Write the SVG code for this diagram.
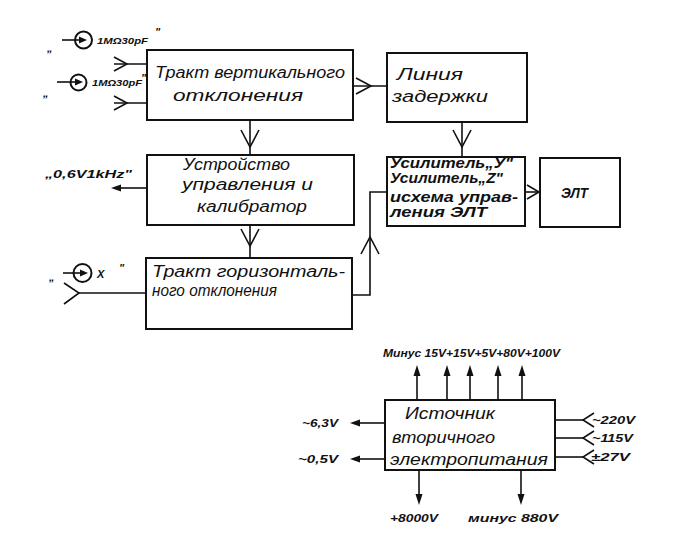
<svg xmlns="http://www.w3.org/2000/svg" width="675" height="537" viewBox="0 0 675 537">
<style>
.box{fill:none;stroke:#111;stroke-width:2}
.ln{fill:none;stroke:#111;stroke-width:1.6}
.v{fill:none;stroke:#111;stroke-width:1.6;stroke-linejoin:miter}
.fa{fill:#111;stroke:none}
text{font-family:"Liberation Sans",Arial,sans-serif;font-style:italic;fill:#111}
.bt{font-size:16px}
.lb{font-size:11px;font-weight:bold}
.sm{font-size:9px;font-weight:bold}
.ub{font-size:14px;font-weight:bold}
</style>
<rect width="675" height="537" fill="#fff"/>
<g id="connectors">
  <line class="ln" x1="62" y1="40" x2="80" y2="40"/>
  <polygon class="fa" points="87,40 79,36.5 79,43.5"/>
  <line class="ln" x1="114" y1="64" x2="147" y2="64"/>
  <polyline class="v" points="114,57 127,64 114,71"/>
  <line class="ln" x1="57" y1="82" x2="76" y2="82"/>
  <polygon class="fa" points="83,82 75,78.5 75,85.5"/>
  <line class="ln" x1="114" y1="103" x2="147" y2="103"/>
  <polyline class="v" points="114,96 127,103 114,110"/>
  <line class="ln" x1="353" y1="86" x2="387" y2="86"/>
  <polyline class="v" points="356,78 371,86 356,94"/>
  <line class="ln" x1="250" y1="120" x2="250" y2="155"/>
  <polyline class="v" points="241,130 250,147 259,130"/>
  <line class="ln" x1="462" y1="122" x2="462" y2="157"/>
  <polyline class="v" points="453,130 462,147 471,130"/>
  <line class="ln" x1="147" y1="188" x2="119" y2="188"/>
  <polygon class="fa" points="111,188 121,184.5 121,191.5"/>
  <line class="ln" x1="250" y1="225" x2="250" y2="258"/>
  <polyline class="v" points="241,229 250,246 259,229"/>
  <line class="ln" x1="63" y1="273" x2="81" y2="273"/>
  <polygon class="fa" points="88,273 80,269.5 80,276.5"/>
  <polyline class="v" points="64,283 79,293 64,304"/>
  <line class="ln" x1="79" y1="293" x2="146" y2="293"/>
  <polyline class="ln" points="352,295 370,295 370,192 387,192"/>
  <polyline class="v" points="361,254 370,237 379,254"/>
  <line class="ln" x1="525" y1="192" x2="540" y2="192"/>
  <polyline class="v" points="527,185 539,192 527,199"/>
  <line class="ln" x1="417" y1="400" x2="417" y2="374"/>
  <polygon class="fa" points="417,365 413.5,376 420.5,376"/>
  <line class="ln" x1="447" y1="400" x2="447" y2="374"/>
  <polygon class="fa" points="447,365 443.5,376 450.5,376"/>
  <line class="ln" x1="470" y1="400" x2="470" y2="374"/>
  <polygon class="fa" points="470,365 466.5,376 473.5,376"/>
  <line class="ln" x1="498" y1="400" x2="498" y2="374"/>
  <polygon class="fa" points="498,365 494.5,376 501.5,376"/>
  <line class="ln" x1="522" y1="400" x2="522" y2="374"/>
  <polygon class="fa" points="522,365 518.5,376 525.5,376"/>
  <line class="ln" x1="385" y1="423" x2="358" y2="423"/>
  <polygon class="fa" points="350,423 360,419.5 360,426.5"/>
  <line class="ln" x1="385" y1="459" x2="358" y2="459"/>
  <polygon class="fa" points="350,459 360,455.5 360,462.5"/>
  <line class="ln" x1="419" y1="470" x2="419" y2="496"/>
  <polygon class="fa" points="419,505 415.5,494 422.5,494"/>
  <line class="ln" x1="521" y1="470" x2="521" y2="496"/>
  <polygon class="fa" points="521,505 517.5,494 524.5,494"/>
  <line class="ln" x1="555" y1="420" x2="583" y2="420"/>
  <polyline class="v" points="594,413 583,420 594,427"/>
  <line class="ln" x1="555" y1="438" x2="583" y2="438"/>
  <polyline class="v" points="594,431 583,438 594,445"/>
  <line class="ln" x1="555" y1="457" x2="583" y2="457"/>
  <polyline class="v" points="594,450 583,457 594,464"/>
</g>
<g id="input-y1">
  <text class="lb" x="47" y="52">„</text>
  <circle class="box" cx="83.5" cy="40" r="8.5"/>
  <text class="sm" x="97" y="44" textLength="51" lengthAdjust="spacingAndGlyphs">1MΩ30pF</text>
  <text class="lb" x="155" y="36">"</text>
</g>
<g id="input-y2">
  <text class="lb" x="43" y="97">„</text>
  <circle class="box" cx="78.5" cy="82.5" r="8"/>
  <text class="sm" x="92" y="86" textLength="50" lengthAdjust="spacingAndGlyphs">1MΩ30pF</text>
  <text class="lb" x="141" y="82">"</text>
</g>
<g id="input-x">
  <text class="lb" x="49" y="281">„</text>
  <circle class="box" cx="82.5" cy="273" r="9"/>
  <text class="lb" x="97" y="278" font-size="13">X</text>
  <text class="lb" x="119" y="272">"</text>
</g>
<g id="vertical">
  <rect class="box" x="147" y="50" width="206" height="70"/>
  <text class="bt" x="155" y="78" textLength="190" lengthAdjust="spacingAndGlyphs">Тракт вертикального</text>
  <text class="bt" x="173" y="101" textLength="130" lengthAdjust="spacingAndGlyphs">отклонения</text>
</g>
<g id="delay">
  <rect class="box" x="387" y="53" width="140" height="69"/>
  <text class="bt" x="397" y="80" textLength="66" lengthAdjust="spacingAndGlyphs">Линия</text>
  <text class="bt" x="392" y="102" textLength="96" lengthAdjust="spacingAndGlyphs">задержки</text>
</g>
<g id="control">
  <rect class="box" x="147" y="155" width="207" height="70"/>
  <text class="bt" x="183" y="170" textLength="107" lengthAdjust="spacingAndGlyphs">Устройство</text>
  <text class="bt" x="182" y="190" textLength="131" lengthAdjust="spacingAndGlyphs">управления и</text>
  <text class="bt" x="197" y="212" textLength="110" lengthAdjust="spacingAndGlyphs">калибратор</text>
</g>
<g id="cal-out">
  <text class="lb" x="45" y="178" font-size="12" textLength="87" lengthAdjust="spacingAndGlyphs">„0,6V1kHz"</text>
</g>
<g id="horizontal">
  <rect class="box" x="146" y="258" width="206" height="71"/>
  <text class="bt" x="152" y="277" textLength="193" lengthAdjust="spacingAndGlyphs">Тракт горизонталь-</text>
  <text class="bt" x="152" y="296" textLength="125" lengthAdjust="spacingAndGlyphs">ного отклонения</text>
</g>
<g id="amplifier">
  <rect class="box" x="387" y="157" width="138" height="69"/>
  <text class="ub" x="390" y="168" textLength="123" lengthAdjust="spacingAndGlyphs">Усилитель„У"</text>
  <text class="ub" x="390" y="183" textLength="113" lengthAdjust="spacingAndGlyphs">Усилитель„Z"</text>
  <text class="ub" x="390" y="202" textLength="128" lengthAdjust="spacingAndGlyphs">исхема управ-</text>
  <text class="ub" x="390" y="217" textLength="97" lengthAdjust="spacingAndGlyphs">ления ЭЛТ</text>
</g>
<g id="crt">
  <rect class="box" x="540" y="158" width="80" height="69"/>
  <text class="ub" x="561" y="198" font-size="15" textLength="27" lengthAdjust="spacingAndGlyphs">ЭЛТ</text>
</g>
<g id="power">
  <rect class="box" x="385" y="400" width="170" height="70"/>
  <text class="bt" x="405" y="419" textLength="90" lengthAdjust="spacingAndGlyphs">Источник</text>
  <text class="bt" x="392" y="443" textLength="103" lengthAdjust="spacingAndGlyphs">вторичного</text>
  <text class="bt" x="390" y="465" textLength="158" lengthAdjust="spacingAndGlyphs">электропитания</text>
</g>
<g id="power-labels">
  <text class="lb" x="383" y="357" font-size="10" textLength="177" lengthAdjust="spacingAndGlyphs">Минус 15V+15V+5V+80V+100V</text>
  <text class="lb" x="302" y="427" textLength="36" lengthAdjust="spacingAndGlyphs">~6,3V</text>
  <text class="lb" x="298" y="463" textLength="40" lengthAdjust="spacingAndGlyphs">~0,5V</text>
  <text class="lb" x="390" y="522" textLength="48" lengthAdjust="spacingAndGlyphs">+8000V</text>
  <text class="lb" x="468" y="522" textLength="90" lengthAdjust="spacingAndGlyphs">минус 880V</text>
  <text class="lb" x="592" y="424" textLength="43" lengthAdjust="spacingAndGlyphs">~220V</text>
  <text class="lb" x="592" y="442" textLength="41" lengthAdjust="spacingAndGlyphs">~115V</text>
  <text class="lb" x="591" y="461" textLength="39" lengthAdjust="spacingAndGlyphs">±27V</text>
</g>
</svg>
